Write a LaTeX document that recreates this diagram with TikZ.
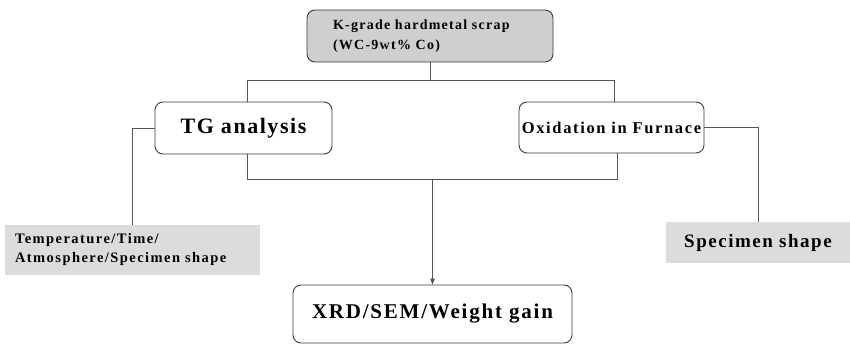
\documentclass[tikz,border=0pt]{standalone}
\usepackage{fontspec}
\setmainfont{Liberation Serif}
\usetikzlibrary{arrows.meta}
\definecolor{boxline}{HTML}{3A3A3A}
\definecolor{conn}{HTML}{555555}
\definecolor{topfill}{HTML}{CFCFCF}
\definecolor{sidefill}{HTML}{DCDCDC}
\tikzset{
  rbox/.style={draw=boxline, line width=0.9pt, rounded corners=8pt, inner sep=0pt, text=black},
  gbox/.style={fill=sidefill, draw=none, inner sep=0pt, text=black},
  conline/.style={draw=conn, line width=0.8pt},
  arr/.style={conline, -{Triangle[length=6pt,width=4.5pt]}}
}
\begin{document}
\begin{tikzpicture}[x=1pt,y=-1pt]
\useasboundingbox (0,0) rectangle (850,345);
\node[rbox, fill=topfill, minimum height=52pt, inner xsep=26pt, text width=194pt, align=left,
      font={\bfseries\fontsize{14}{20}\selectfont\addfontfeatures{LetterSpace=9}}]
  (top) at (430,36) {K-grade hardmetal scrap\\(WC-9wt\% Co)};
\node[rbox, minimum width=177pt, minimum height=52pt,
      font={\bfseries\fontsize{22}{26}\selectfont\addfontfeatures{LetterSpace=7}}]
  (tg) at (243.5,128) {TG analysis};
\node[rbox, minimum width=185pt, minimum height=51pt,
      font={\bfseries\fontsize{16.5}{20}\selectfont\addfontfeatures{LetterSpace=10}}]
  (ox) at (611.5,127.5) {Oxidation in Furnace};
\node[rbox, minimum width=279pt, minimum height=58pt,
      font={\bfseries\fontsize{21}{26}\selectfont\addfontfeatures{LetterSpace=8.5}}]
  (xrd) at (432.5,314) {XRD/SEM/Weight gain};
\node[gbox, minimum height=50pt, inner xsep=10pt, text width=235pt, align=left,
      font={\bfseries\fontsize{14.5}{19}\selectfont\addfontfeatures{LetterSpace=10}}]
  (lbox) at (132.5,250) {Temperature/Time/\\Atmosphere/Specimen shape};
\node[gbox, minimum width=184pt, minimum height=41pt,
      font={\bfseries\fontsize{19}{23}\selectfont\addfontfeatures{LetterSpace=8}}]
  (rbx) at (758,242.5) {Specimen shape};
\coordinate (hl) at (247,80);
\coordinate (hr) at (614,80);
\coordinate (bl) at (247,179);
\coordinate (br) at (617,179);
\draw[conline] (top.south) -- (top.south |- hl);
\draw[conline] (hl) -- (hr);
\draw[conline] (hl) -- (hl |- tg.north);
\draw[conline] (hr) -- (hr |- ox.north);
\draw[conline] (bl |- tg.south) -- (bl) -- (br) -- (br |- ox.south);
\draw[arr] (xrd.north |- bl) -- (xrd.north);
\draw[conline] (tg.west) -| (lbox.north);
\draw[conline] (ox.east) -| (rbx.north);
\end{tikzpicture}
\end{document}
